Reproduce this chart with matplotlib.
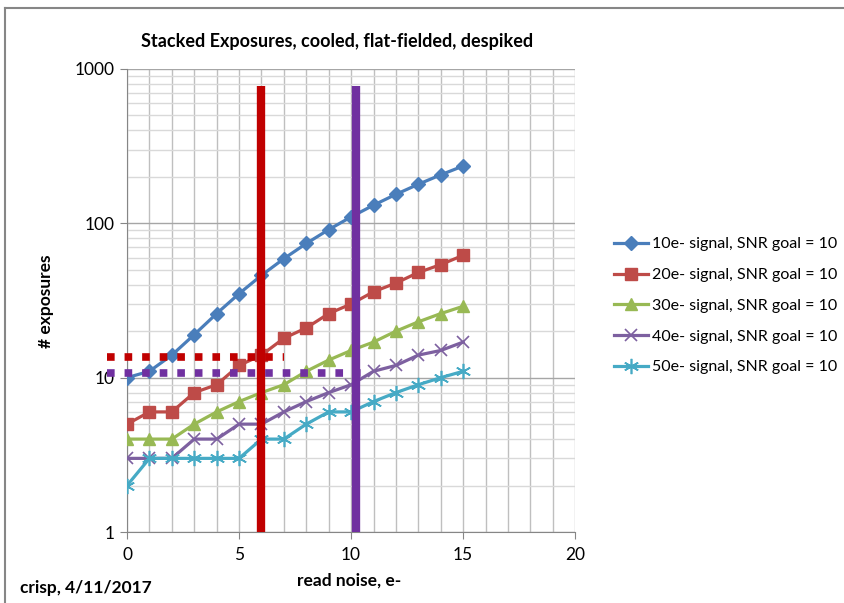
import matplotlib.pyplot as plt
from matplotlib.ticker import FixedLocator, LogLocator, NullFormatter

plt.rcParams['font.family'] = ['Lato', 'DejaVu Sans']

read_noise = list(range(16))
exp_10e = [10, 11, 14, 19, 26, 35, 46, 59, 74, 91, 110, 131, 154, 179, 206, 235]
exp_20e = [5, 6, 6, 8, 9, 12, 14, 18, 21, 26, 30, 36, 41, 48, 54, 62]
exp_30e = [4, 4, 4, 5, 6, 7, 8, 9, 11, 13, 15, 17, 20, 23, 26, 29]
exp_40e = [3, 3, 3, 4, 4, 5, 5, 6, 7, 8, 9, 11, 12, 14, 15, 17]
exp_50e = [2, 3, 3, 3, 3, 3, 4, 4, 5, 6, 6, 7, 8, 9, 10, 11]
labels = ['10e- signal, SNR goal = 10', '20e- signal, SNR goal = 10',
          '30e- signal, SNR goal = 10', '40e- signal, SNR goal = 10',
          '50e- signal, SNR goal = 10']

# camera read noise markers and the matching exposure counts
red_rn, red_n = 6.0, 13.6
purple_rn, purple_n = 10.2, 10.7
marker_top = 780

fig = plt.figure(figsize=(8.44, 6.03), dpi=100)
ax = fig.add_axes([0.1505, 0.1177, 0.531, 0.768])

series = [
    (exp_10e, '#4a7ebb', 'D', 7.5, None),
    (exp_20e, '#be4b48', 's', 8.5, None),
    (exp_30e, '#98b954', '^', 9, None),
    (exp_40e, '#7d60a0', 'x', 9, 1.2),
    (exp_50e, '#46aac5', (6, 2, 0), 11, 1.2),
]
for (vals, col, mk, ms, mew), lab in zip(series, labels):
    kw = {}
    if mew is not None:
        kw['markeredgewidth'] = mew
    ax.plot(read_noise, vals, color=col, marker=mk, markersize=ms,
            linewidth=2.3, label=lab, zorder=3, **kw)

ax.plot([red_rn, red_rn], [1, marker_top], color='#c00000', linewidth=6,
        solid_capstyle='butt', zorder=4)
ax.plot([purple_rn, purple_rn], [1, marker_top], color='#7030a0', linewidth=6,
        solid_capstyle='butt', zorder=4)
ax.plot([-0.9, 7.0], [red_n, red_n], color='#c00000', linewidth=5.5,
        linestyle=(0, (1.0, 1.3)), clip_on=False, zorder=5)
ax.plot([-0.9, 10.85], [purple_n, purple_n], color='#7030a0', linewidth=5.5,
        linestyle=(0, (1.0, 1.3)), clip_on=False, zorder=5)

ax.set_yscale('log')
ax.set_ylim(1, 1000)
ax.set_xlim(0, 20)
ax.yaxis.set_major_locator(FixedLocator([1, 10, 100, 1000]))
ax.set_yticklabels(['1', '10', '100', '1000'])
ax.yaxis.set_minor_locator(LogLocator(base=10, subs=range(2, 10)))
ax.yaxis.set_minor_formatter(NullFormatter())
ax.set_xticks([0, 5, 10, 15, 20])
ax.xaxis.set_minor_locator(FixedLocator(range(21)))

ax.grid(True, which='major', axis='y', color='#a6a6a6', linewidth=1)
ax.grid(True, which='minor', axis='y', color='#d9d9d9', linewidth=1)
ax.grid(True, which='both', axis='x', color='#bfbfbf', linewidth=1)
ax.set_axisbelow(True)

for s in ['top', 'right']:
    ax.spines[s].set_visible(False)
for s in ['left', 'bottom']:
    ax.spines[s].set_color('#868686')
ax.tick_params(axis='both', which='major', length=5, color='#868686',
               labelsize=12.5, pad=4)
ax.tick_params(axis='y', which='minor', length=0)
ax.tick_params(axis='x', which='minor', length=0)
ax.tick_params(axis='x', pad=6)

fig.text(0.399, 0.932, 'Stacked Exposures, cooled, flat-fielded, despiked',
         ha='center', va='center', fontsize=13, fontweight='bold')
fig.text(0.054, 0.50, '# exposures', rotation=90, ha='center', va='center',
         fontsize=12.5, fontweight='bold')
fig.text(0.414, 0.038, 'read noise, e-', ha='center', va='center',
         fontsize=12.5, fontweight='bold')
fig.text(0.024, 0.025, 'crisp, 4/11/2017', ha='left', va='center',
         fontsize=12.5, fontweight='bold')

fig.legend(loc='upper left', bbox_to_anchor=(0.718, 0.62), frameon=False,
           fontsize=11.5, handlelength=2.1, handletextpad=0.3,
           labelspacing=1.04, borderpad=0)

# chart frame along the top and left edges
fig.add_artist(plt.Line2D([0.006, 1.0], [0.987, 0.987], color='#868686',
                          linewidth=1.5, transform=fig.transFigure))
fig.add_artist(plt.Line2D([0.006, 0.006], [0.0, 0.987], color='#868686',
                          linewidth=1.5, transform=fig.transFigure))

fig.savefig('out.png', dpi=100)
